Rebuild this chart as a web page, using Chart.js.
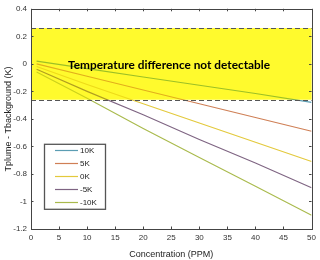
<!DOCTYPE html>
<html>
<head>
<meta charset="utf-8">
<script src="https://cdn.jsdelivr.net/npm/chart.js@4.4.0/dist/chart.umd.min.js"></script>
<style>
  html, body { margin: 0; padding: 0; background: #fff; }
  #wrap { width: 320px; height: 260px; }
</style>
</head>
<body>
<div id="wrap"><canvas id="chart" width="320" height="260"></canvas></div>
<script>
// Concentration values (PPM) where each curve was read
const concentration = [1, 10, 20, 30, 40, 50];

// Tplume - Tbackground (K) per background temperature offset
const series10K = [0.02, -0.035, -0.095, -0.155, -0.215, -0.28];
const series5K = [0.0, -0.09, -0.19, -0.29, -0.39, -0.49];
const series0K = [-0.02, -0.15, -0.29, -0.43, -0.57, -0.71];
const seriesMinus5K = [-0.04, -0.2, -0.37, -0.55, -0.72, -0.9];
const seriesMinus10K = [-0.06, -0.25, -0.47, -0.68, -0.89, -1.1];

const seriesLabels = ['10K', '5K', '0K', '-5K', '-10K'];
const seriesColors = ['#5b9db3', '#cf7f55', '#e3c93c', '#7e6482', '#a9ba4c'];

// Detection threshold band
const bandLimits = [-0.26, 0.26];
const bandText = 'Temperature difference not detectable';

const xTicks = [0, 5, 10, 15, 20, 25, 30, 35, 40, 45, 50];
const yTicks = [0.4, 0.2, 0, -0.2, -0.4, -0.6, -0.8, -1, -1.2];

const allSeries = [series10K, series5K, series0K, seriesMinus5K, seriesMinus10K];

const datasets = allSeries.map((vals, i) => ({
  label: seriesLabels[i],
  data: vals.map((v, j) => ({ x: concentration[j], y: v })),
  borderColor: seriesColors[i],
  borderWidth: 1.1,
  pointRadius: 0,
  fill: false,
  tension: 0,
}));

// band, dashed limits and caption drawn over the lines
const bandPlugin = {
  id: 'band',
  afterDatasetsDraw(chart) {
    const { ctx, chartArea: a, scales: { x, y } } = chart;
    const yTop = y.getPixelForValue(bandLimits[1]);
    const yBot = y.getPixelForValue(bandLimits[0]);
    ctx.save();
    ctx.globalCompositeOperation = 'multiply';
    ctx.fillStyle = 'rgb(255, 250, 45)';
    ctx.fillRect(a.left, yTop, a.right - a.left, yBot - yTop);
    ctx.globalCompositeOperation = 'source-over';
    ctx.fillStyle = 'rgba(255, 250, 45, 0.4)';
    ctx.fillRect(a.left, yTop, a.right - a.left, yBot - yTop);
    ctx.restore();

    ctx.save();
    ctx.strokeStyle = '#555';
    ctx.lineWidth = 1.2;
    ctx.setLineDash([5, 3]);
    [yTop, yBot].forEach((py) => {
      ctx.beginPath();
      ctx.moveTo(a.left, Math.round(py) + 0.5);
      ctx.lineTo(a.right, Math.round(py) + 0.5);
      ctx.stroke();
    });
    ctx.restore();

    ctx.save();
    let size = 12;
    ctx.font = 'bold ' + size + 'px Lato';
    const w = ctx.measureText(bandText).width;
    size = size * 202 / w;
    ctx.font = 'bold ' + size.toFixed(2) + 'px Lato';
    ctx.fillStyle = '#000';
    ctx.textAlign = 'center';
    ctx.textBaseline = 'middle';
    ctx.fillText(bandText, x.getPixelForValue(24.6), y.getPixelForValue(0) + 1);
    ctx.restore();
  },
  afterDraw(chart) {
    const { ctx, chartArea: a, scales: { x, y } } = chart;
    ctx.save();
    ctx.strokeStyle = '#444';
    ctx.lineWidth = 1;
    // frame
    ctx.strokeRect(Math.round(a.left) + 0.5, Math.round(a.top) + 0.5,
      Math.round(a.right - a.left), Math.round(a.bottom - a.top));
    // inner ticks on all sides
    ctx.beginPath();
    xTicks.forEach((t) => {
      const px = Math.round(x.getPixelForValue(t)) + 0.5;
      ctx.moveTo(px, a.bottom); ctx.lineTo(px, a.bottom - 2.5);
      ctx.moveTo(px, a.top); ctx.lineTo(px, a.top + 2.5);
    });
    yTicks.forEach((t) => {
      const py = Math.round(y.getPixelForValue(t)) + 0.5;
      ctx.moveTo(a.left, py); ctx.lineTo(a.left + 2.5, py);
      ctx.moveTo(a.right, py); ctx.lineTo(a.right - 2.5, py);
    });
    ctx.stroke();
    ctx.restore();

    // legend box inside the plot
    const lx = a.left + 13, ly = a.top + 135, lw = 61, lh = 65;
    ctx.save();
    ctx.fillStyle = '#fff';
    ctx.fillRect(lx, ly, lw, lh);
    ctx.strokeStyle = '#555';
    ctx.lineWidth = 1.3;
    ctx.strokeRect(lx + 0.5, ly + 0.5, lw, lh);
    ctx.font = '8px "Liberation Sans", Arial, sans-serif';
    ctx.textBaseline = 'middle';
    ctx.fillStyle = '#222';
    seriesLabels.forEach((lab, i) => {
      const ry = Math.round(ly + 6 + i * 13) + 0.5;
      ctx.strokeStyle = seriesColors[i];
      ctx.lineWidth = 1.2;
      ctx.beginPath();
      ctx.moveTo(lx + 11, ry);
      ctx.lineTo(lx + 34, ry);
      ctx.stroke();
      ctx.fillText(lab, lx + 36, ry);
    });
    ctx.restore();
  },
};

new Chart(document.getElementById('chart'), {
  type: 'line',
  data: { datasets },
  options: {
    responsive: false,
    animation: false,
    layout: { padding: { top: 5, right: 8, left: 0, bottom: 0 } },
    plugins: {
      legend: { display: false },
      tooltip: { enabled: false },
    },
    scales: {
      x: {
        type: 'linear',
        min: 0,
        max: 50,
        afterBuildTicks: (s) => { s.ticks = xTicks.map((v) => ({ value: v })); },
        afterFit: (s) => { s.height = 31; },
        grid: { display: false, drawTicks: false },
        border: { display: false },
        ticks: {
          padding: 4,
          color: '#333',
          font: { family: '"Liberation Sans", Arial', size: 8 },
          maxRotation: 0,
          callback: (v) => String(v),
        },
        title: {
          display: true,
          text: 'Concentration (PPM)',
          color: '#222',
          font: { family: '"Liberation Sans", Arial', size: 9 },
          padding: { top: 2, bottom: 0 },
        },
      },
      y: {
        min: -1.2,
        max: 0.4,
        afterBuildTicks: (s) => { s.ticks = yTicks.map((v) => ({ value: v })); },
        afterFit: (s) => { s.width = 31; },
        grid: { display: false, drawTicks: false },
        border: { display: false },
        ticks: {
          padding: 4,
          color: '#333',
          font: { family: '"Liberation Sans", Arial', size: 8 },
          callback: (v) => String(parseFloat(v.toFixed(1))),
        },
        title: {
          display: true,
          text: 'Tplume - Tbackground (K)',
          color: '#222',
          font: { family: '"Liberation Sans", Arial', size: 9 },
          padding: { top: 3, bottom: 0 },
        },
      },
    },
  },
  plugins: [bandPlugin],
});
</script>
</body>
</html>
